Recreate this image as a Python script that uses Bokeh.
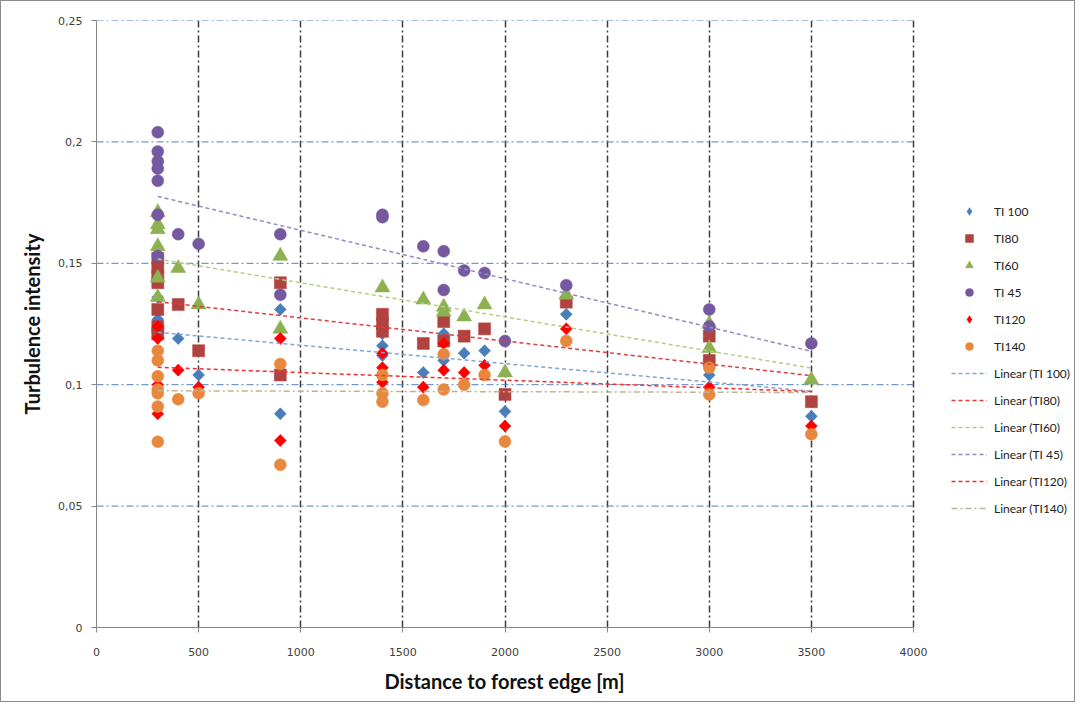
import numpy as np
from bokeh.plotting import figure
from bokeh.models import (FixedTicker, CustomJSTickFormatter, Legend, LegendItem, Range1d, Title)
from bokeh.embed import file_html
from bokeh.resources import INLINE

# ---- data ----
ti100_x = [300, 300, 300, 400, 500, 900, 900, 1400, 1400, 1400, 1600, 1700, 1700, 1800, 1900, 2000, 2300, 3000, 3500]
ti100_y = [0.136, 0.127, 0.120, 0.119, 0.104, 0.131, 0.088, 0.121, 0.116, 0.112, 0.105, 0.121, 0.110, 0.113, 0.114, 0.089, 0.129, 0.104, 0.087]

ti80_x = [300, 300, 300, 300, 300, 300, 300, 400, 500, 900, 900, 1400, 1400, 1400, 1600, 1700, 1700, 1800, 1900, 2000, 2300, 3000, 3000, 3500]
ti80_y = [0.152, 0.148, 0.145, 0.142, 0.131, 0.124, 0.121, 0.133, 0.114, 0.142, 0.104, 0.129, 0.125, 0.122, 0.117, 0.126, 0.118, 0.120, 0.123, 0.096, 0.134, 0.120, 0.110, 0.093]

ti60_x = [300, 300, 300, 300, 300, 300, 400, 500, 900, 900, 1400, 1600, 1700, 1700, 1800, 1900, 2000, 2300, 3000, 3000, 3500]
ti60_y = [0.171, 0.166, 0.164, 0.157, 0.144, 0.136, 0.148, 0.133, 0.153, 0.123, 0.140, 0.135, 0.132, 0.130, 0.128, 0.133, 0.105, 0.137, 0.125, 0.115, 0.102]

ti45_x = [300, 300, 300, 300, 300, 300, 300, 400, 500, 900, 900, 1400, 1400, 1600, 1700, 1700, 1800, 1900, 2000, 2300, 3000, 3000, 3500]
ti45_y = [0.204, 0.196, 0.192, 0.189, 0.184, 0.170, 0.153, 0.162, 0.158, 0.162, 0.137, 0.170, 0.169, 0.157, 0.155, 0.139, 0.147, 0.146, 0.118, 0.141, 0.131, 0.124, 0.117]

ti120_x = [300, 300, 300, 300, 400, 500, 900, 900, 1400, 1400, 1400, 1600, 1700, 1700, 1800, 1900, 2000, 2300, 3000, 3500]
ti120_y = [0.124, 0.119, 0.100, 0.088, 0.106, 0.099, 0.119, 0.077, 0.113, 0.107, 0.101, 0.099, 0.117, 0.106, 0.105, 0.108, 0.083, 0.123, 0.099, 0.083]

ti140_x = [300, 300, 300, 300, 300, 300, 300, 400, 500, 900, 900, 1400, 1400, 1400, 1600, 1700, 1700, 1800, 1900, 2000, 2300, 3000, 3000, 3500]
ti140_y = [0.114, 0.110, 0.1035, 0.098, 0.0965, 0.091, 0.0765, 0.094, 0.0965, 0.1085, 0.067, 0.104, 0.0965, 0.093, 0.0937, 0.1125, 0.098, 0.100, 0.104, 0.0766, 0.118, 0.107, 0.096, 0.0796]

series_names = ["TI 100", "TI80", "TI60", "TI 45", "TI120", "TI140"]
x_ticks = [0, 500, 1000, 1500, 2000, 2500, 3000, 3500, 4000]
y_ticks = [0, 0.05, 0.1, 0.15, 0.2, 0.25]
x_title = "Distance to forest edge [m]"
y_title = "Turbulence intensity"

# ---- layout: the frame extends right to hold the legend; axis/grid stop at 4000 ----
X_MAX = 4000
PLOT_PX = 817          # pixels for 0..4000
FRAME_W = 978
x_end = X_MAX * FRAME_W / PLOT_PX

p = figure(frame_width=FRAME_W, frame_height=607,
           x_range=Range1d(0, x_end), y_range=Range1d(0, 0.25),
           output_backend="svg", toolbar_location=None,
           min_border_left=95, min_border_right=0, min_border_top=19, min_border_bottom=74)
p.styles = {"border": "1px solid #8c8c8c"}
p.outline_line_color = None
p.background_fill_color = "white"
p.border_fill_color = "white"

# grids
p.xgrid.ticker = FixedTicker(ticks=x_ticks[1:])
p.xgrid.grid_line_color = "#3c3c3c"
p.xgrid.grid_line_width = 1.5
p.xgrid.grid_line_dash = "7 3 2 3"
p.ygrid.visible = False
gy = y_ticks[1:]
p.segment(x0=[0] * len(gy), y0=gy, x1=[X_MAX] * len(gy), y1=gy,
          line_color="#4F81BD", line_width=1, line_dash="7 3 2 3")

# axes
fmt = CustomJSTickFormatter(code="""
let s = tick.toFixed(2).replace(/0+$/, '').replace(/\\.$/, '');
return s.replace('.', ',');
""")
p.yaxis.ticker = FixedTicker(ticks=y_ticks)
p.yaxis.formatter = fmt
p.xaxis.ticker = FixedTicker(ticks=x_ticks)
p.xaxis.bounds = (0, X_MAX)
for ax in (p.xaxis, p.yaxis):
    ax.axis_line_color = "#868686"
    ax.major_tick_line_color = "#868686"
    ax.major_tick_out = 5
    ax.major_tick_in = 0
    ax.minor_tick_line_color = None
    ax.major_label_text_font = "DejaVu Sans"
    ax.major_label_text_font_size = "11px"
    ax.major_label_text_color = "#404040"
    ax.axis_label_text_font = "Lato"
    ax.axis_label_text_font_style = "bold"
    ax.axis_label_text_font_size = "20px"
    ax.axis_label_text_color = "#111111"
p.xaxis.major_label_standoff = 15
p.yaxis.major_label_standoff = 9
p.yaxis.axis_label_standoff = 11
p.yaxis.axis_label = y_title

# x-axis title, centred under the 0..4000 part of the frame
xt = Title(text=x_title, align="left", offset=288, standoff=16,
           text_font="Lato", text_font_style="bold", text_font_size="20px",
           text_color="#111111")
p.add_layout(xt, "below")

# markers
xs_all = [ti100_x, ti80_x, ti60_x, ti45_x, ti120_x, ti140_x]
ys_all = [ti100_y, ti80_y, ti60_y, ti45_y, ti120_y, ti140_y]
marker_specs = [
    dict(marker="square", angle=np.pi / 4, size=8.5, color="#4A7EBB"),
    dict(marker="square", angle=0, size=12, color="#B0423F"),
    dict(marker="triangle", angle=0, size=15, color="#8DB150"),
    dict(marker="circle", angle=0, size=12, color="#7459A0"),
    dict(marker="square", angle=np.pi / 4, size=8.5, color="#FF0000"),
    dict(marker="circle", angle=0, size=12, color="#E8883E"),
]
marker_renderers = []
legend_marker_renderers = []
for xs, ys, spec in zip(xs_all, ys_all, marker_specs):
    if spec["angle"] != 0:
        # legend keys ignore the angle: a diamond drawn under the rotated squares
        # (fully hidden by them) serves as the legend key
        lr = p.scatter(xs, ys, marker="diamond", size=11.5,
                       fill_color=spec["color"], line_color=spec["color"], line_width=0.3)
        legend_marker_renderers.append(lr)
    r = p.scatter(xs, ys, marker=spec["marker"], angle=spec["angle"], size=spec["size"],
                  fill_color=spec["color"], line_color=spec["color"], line_width=0.5)
    marker_renderers.append(r)
    if spec["angle"] == 0:
        legend_marker_renderers.append(r)

# linear trend lines
trend_specs = [
    dict(color="#7FA5D8", dash="4 3"),
    dict(color="#E03C3C", dash="4 3"),
    dict(color="#B2CF82", dash="4 3"),
    dict(color="#9A86C0", dash="4 3"),
    dict(color="#FF2A2A", dash="4 3"),
    dict(color="#BDB592", dash="6 3 2 3"),
]
trend_renderers = []
for xs, ys, spec in zip(xs_all, ys_all, trend_specs):
    k, b = np.polyfit(np.array(xs, float), np.array(ys, float), 1)
    x0, x1 = min(xs), max(xs)
    r = p.line([x0, x1], [k * x0 + b, k * x1 + b], line_color=spec["color"],
               line_dash=spec["dash"], line_width=1.5)
    trend_renderers.append(r)

items = [LegendItem(label=n, renderers=[r]) for n, r in zip(series_names, legend_marker_renderers)]
items += [LegendItem(label="Linear (%s)" % n, renderers=[r]) for n, r in zip(series_names, trend_renderers)]
legend = Legend(items=items, location=(855, 109), padding=0, spacing=7,
                glyph_width=36, glyph_height=20, label_height=20, label_standoff=7,
                label_text_font="Lato", label_text_font_size="12px", label_text_color="#222222",
                border_line_color=None, background_fill_alpha=0, margin=0)
p.add_layout(legend, "center")

open("out.html", "w").write(file_html(p, INLINE))
